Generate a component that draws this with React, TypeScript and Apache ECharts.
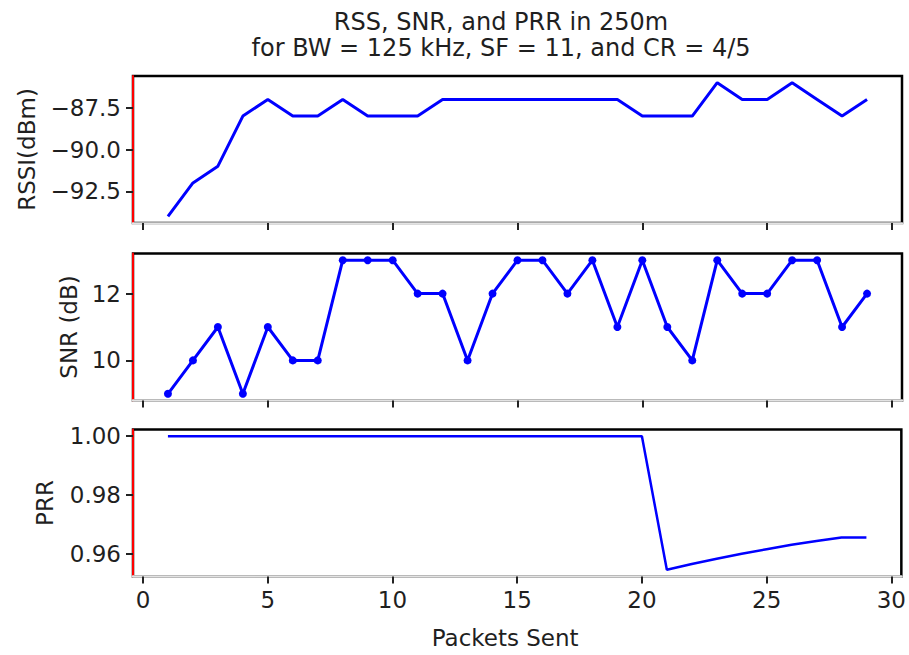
import React, { useEffect, useRef } from 'react';
import * as echarts from 'echarts';

const packets = [1, 2, 3, 4, 5, 6, 7, 8, 9, 10, 11, 12, 13, 14, 15, 16, 17, 18, 19, 20, 21, 22, 23, 24, 25, 26, 27, 28, 29];
const rssi = [-94, -92, -91, -88, -87, -88, -88, -87, -88, -88, -88, -87, -87, -87, -87, -87, -87, -87, -87, -88, -88, -88, -86, -87, -87, -86, -87, -88, -87];
const snr = [9, 10, 11, 9, 11, 10, 10, 13, 13, 13, 12, 12, 10, 12, 13, 13, 12, 13, 11, 13, 11, 10, 13, 12, 12, 13, 13, 11, 12];
const prr = [1, 1, 1, 1, 1, 1, 1, 1, 1, 1, 1, 1, 1, 1, 1, 1, 1, 1, 1, 1, 0.9545, 0.9565, 0.9583, 0.96, 0.9615, 0.963, 0.9643, 0.9655, 0.9655];

const xTicks = [0, 5, 10, 15, 20, 25, 30];
const rssiTicks = [-92.5, -90, -87.5];
const snrTicks = [10, 12];
const prrTicks = [0.96, 0.98, 1.0];

const titleLines = ['RSS, SNR, and PRR in 250m', 'for BW = 125 kHz, SF = 11, and CR = 4/5'];
const xName = 'Packets Sent';
const yNames = ['RSSI(dBm)', 'SNR (dB)', 'PRR'];

export default function App() {
  const ref = useRef<HTMLDivElement>(null);
  useEffect(() => {
    if (!ref.current) return;
    const chart = echarts.init(ref.current, null, { renderer: 'svg' });
    const font = 'DejaVu Sans';
    const textColor = '#1f1f1f';
    const tickColor = '#222';
    const padMin = (v: any) => v.min - (v.max - v.min) * 0.05;
    const padMax = (v: any) => v.max + (v.max - v.min) * 0.05;
    const tops = [76, 253.5, 429.5];
    const yTickSets = [rssiTicks, snrTicks, prrTicks];
    const yFormatters = [
      (v: number) => v.toFixed(1).replace('-', '\u2212'),
      (v: number) => String(Math.round(v)),
      (v: number) => v.toFixed(2),
    ];
    const yNameGaps = [95, 53, 77];
    const seriesData = [rssi, snr, prr];

    const option: any = {
      animation: false,
      backgroundColor: '#ffffff',
      title: {
        text: titleLines.join('\n'),
        left: 501,
        top: 9,
        textAlign: 'center',
        padding: 0,
        textStyle: { fontFamily: font, fontSize: 24, fontWeight: 'normal', color: textColor, lineHeight: 26 },
      },
      grid: tops.map((top) => ({
        left: 133,
        top,
        width: 769,
        height: 147,
        show: true,
        borderColor: '#000',
        borderWidth: 2.5,
        backgroundColor: 'transparent',
      })),
      xAxis: tops.map((_, i) => ({
        type: 'value',
        gridIndex: i,
        min: padMin,
        max: padMax,
        axisLine: { show: true, onZero: false, lineStyle: { color: '#e3e3e3', width: 2.5 } },
        axisTick: { show: true, length: 7, customValues: xTicks, lineStyle: { color: tickColor, width: 2 } },
        axisLabel: {
          show: i === 2,
          customValues: xTicks,
          margin: 12,
          fontSize: 23,
          fontFamily: font,
          color: textColor,
        },
        splitLine: { show: false },
        name: i === 2 ? xName : '',
        nameLocation: 'middle',
        nameGap: 50,
        nameTextStyle: { fontFamily: font, fontSize: 23, color: textColor, padding: [0, 24, 0, 0] },
      })),
      yAxis: tops.map((_, i) => ({
        type: 'value',
        gridIndex: i,
        min: padMin,
        max: padMax,
        axisLine: { show: true, onZero: false, lineStyle: { color: '#ff0000', width: 2 } },
        axisTick: { show: true, length: 7, customValues: yTickSets[i], lineStyle: { color: tickColor, width: 2 } },
        axisLabel: {
          customValues: yTickSets[i],
          formatter: yFormatters[i],
          margin: 12,
          fontSize: 23,
          fontFamily: font,
          color: textColor,
        },
        splitLine: { show: false },
        name: yNames[i],
        nameLocation: 'middle',
        nameGap: yNameGaps[i],
        nameTextStyle: { fontFamily: font, fontSize: 23, color: textColor },
      })),
      series: seriesData.map((vals, i) => ({
        type: 'line',
        xAxisIndex: i,
        yAxisIndex: i,
        data: packets.map((x, k) => [x, vals[k]]),
        symbol: i === 1 ? 'circle' : 'none',
        showSymbol: i === 1,
        symbolSize: 8,
        lineStyle: { color: '#0000ff', width: i === 2 ? 2.5 : 3 },
        itemStyle: { color: '#0000ff' },
        emphasis: { disabled: true },
      })),
    };
    chart.setOption(option);
    return () => chart.dispose();
  }, []);
  return <div ref={ref} style={{ position: 'absolute', left: 0, top: 0, width: 909, height: 655 }} />;
}
